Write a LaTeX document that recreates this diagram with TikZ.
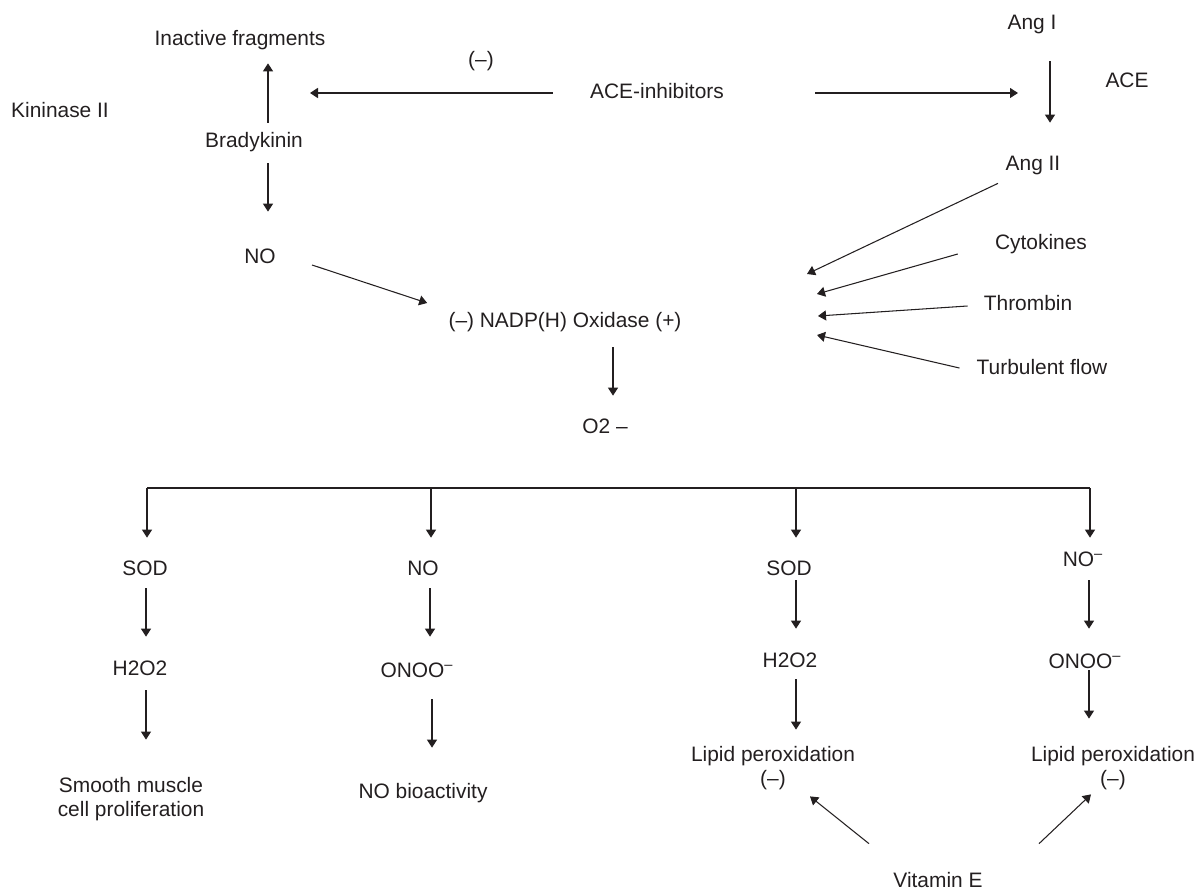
\documentclass[tikz,border=0pt]{standalone}
\usepackage{fontspec}
\setmainfont{Liberation Sans}
\usepackage{tikz}
\usetikzlibrary{arrows.meta,calc}
\definecolor{inkgray}{RGB}{35,31,32}

\begin{document}
\begin{tikzpicture}[
        x=0.02cm, y=-0.02cm,
        every node/.style={inner sep=0pt, text=inkgray, font=\fontsize{11.9}{14}\selectfont},
        lab/.style={text height=0.32cm, text depth=0.08cm},
        twoline/.style={align=center},
        arr/.style={draw=inkgray, line width=0.6pt, -{Triangle[length=1.6mm, width=2mm]}},
        bus/.style={draw=inkgray, line width=0.6pt}
    ]
    \useasboundingbox (0,0) rectangle (1203,892);

    % Kinin side
    \node[lab] (inact) at (240,40) {Inactive fragments};
    \node[lab] (minus) at (481,61) {(–)};
    \node[lab] (kininase) at (60,112) {Kininase II};
    \node[lab] (brady) at (254,142) {Bradykinin};
    \node[lab] (noUp) at (260,257) {NO};
    \coordinate (kinhit) at (310,93);

    \draw[arr] ($(brady.north)+(14,-9)$) -- ($(inact.south)+(28,13)$);
    \draw[arr] ($(brady.south)+(14,11)$) -- ($(noUp.north)+(8,-35)$);

    % ACE-inhibitors and angiotensin side
    \node[lab] (aceinh) at (657,93) {ACE-inhibitors};
    \node[lab] (angI) at (1032,24) {Ang I};
    \node[lab] (ace) at (1127,82) {ACE};
    \node[lab] (angII) at (1033,164) {Ang II};
    \coordinate (acehit) at (1018,93);

    \draw[arr, line width=1pt] ($(aceinh.west)+(-37,0)$) -- (kinhit);
    \draw[arr] ($(aceinh.east)+(91,0)$) -- (acehit);
    \draw[arr] ($(angI.south)+(18,27)$) -- ($(angII.north)+(17,-31)$);

    % NADP(H) oxidase and its stimuli
    \node[lab] (nadph) at (565,321) {(–) NADP(H) Oxidase (+)};
    \node[lab] (otwo) at (605,427) {O2 –};
    \node[lab] (cyto) at (1041,243) {Cytokines};
    \node[lab] (thromb) at (1028,304) {Thrombin};
    \node[lab] (turb) at (1042,368) {Turbulent flow};
    \coordinate (oxA) at (807,274);
    \coordinate (oxB) at (817,294);
    \coordinate (oxC) at (818,316);
    \coordinate (oxD) at (817,335);

    \draw[arr] ($(noUp.east)+(36,8)$) -- ($(nadph.west)+(-21,-18)$);
    \draw[arr] ($(angII.south)+(-35,9)$) -- (oxA);
    \draw[arr] ($(cyto.west)+(-37,11)$) -- (oxB);
    \draw[arr] ($(thromb.west)+(-16,2)$) -- (oxC);
    \draw[arr] ($(turb.west)+(-17,0)$) -- (oxD);
    \draw[arr] ($(nadph.south)+(48,16)$) -- ($(otwo.north)+(8,-21)$);

    % Four branches
    \node[lab] (sodA) at (145,569) {SOD};
    \node[lab] (noB) at (423,569) {NO};
    \node[lab] (sodC) at (789,569) {SOD};
    \node[lab] (noD) at (1083,560) {NO\textsuperscript{–}};
    \coordinate (busL) at (147,488);
    \coordinate (busR) at (1090,488);

    \draw[bus] (busL) -- (busR);
    \draw[arr] (busL) -- ($(sodA.north)+(2,-21)$);
    \draw[arr] ($(noB.north |- busL)+(8,0)$) -- ($(noB.north)+(8,-21)$);
    \draw[arr] ($(sodC.north |- busL)+(7,0)$) -- ($(sodC.north)+(7,-21)$);
    \draw[arr] (busR) -- ($(noD.north)+(7,-12)$);

    \node[lab] (hA) at (140,669) {H2O2};
    \node[lab] (onooB) at (417,671) {ONOO\textsuperscript{–}};
    \node[lab] (hC) at (790,661) {H2O2};
    \node[lab] (onooD) at (1085,662) {ONOO\textsuperscript{–}};

    \draw[arr] ($(sodA.south)+(1,9)$) -- ($(hA.north)+(6,-22)$);
    \draw[arr] ($(noB.south)+(7,9)$) -- ($(onooB.north)+(13,-24)$);
    \draw[arr] ($(sodC.south)+(7,1)$) -- ($(hC.north)+(6,-22)$);
    \draw[arr] ($(noD.south)+(6,10)$) -- ($(onooD.north)+(4,-23)$);

    \node[twoline] (smc) at (131,799) {Smooth muscle\\cell proliferation};
    \node[lab] (bio) at (423,792) {NO bioactivity};
    \node[twoline] (lipC) at (773,768) {Lipid peroxidation\\(–)};
    \node[twoline] (lipD) at (1113,768) {Lipid peroxidation\\(–)};

    \draw[arr] ($(hA.south)+(6,11)$) -- ($(smc.north)+(15,-37)$);
    \draw[arr] ($(onooB.south)+(15,18)$) -- ($(bio.north)+(9,-34)$);
    \draw[arr] ($(hC.south)+(6,8)$) -- ($(lipC.north)+(23,-16)$);
    \draw[arr] ($(onooD.south)+(4,-2)$) -- ($(lipD.north)+(-24,-27)$);

    % Vitamin E
    \node[lab] (vitE) at (938,881) {Vitamin E};
    \draw[arr] ($(vitE.north)+(-69,-27)$) -- ($(lipC.south)+(37,6)$);
    \draw[arr] ($(vitE.north)+(101,-27)$) -- ($(lipD.south)+(-22,4)$);

\end{tikzpicture}
\end{document}
